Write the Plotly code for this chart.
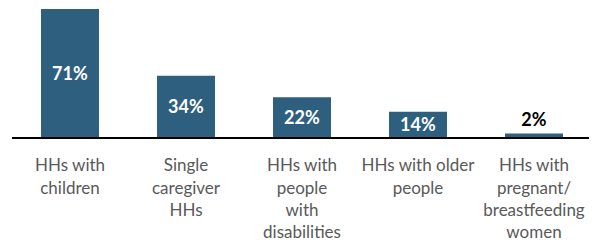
import plotly.graph_objects as go

categories = ["HHs with<br>children", "Single<br>caregiver<br>HHs", "HHs with<br>people<br>with<br>disabilities",
              "HHs with older<br>people", "HHs with<br>pregnant/<br>breastfeeding<br>women"]
values = [71, 34, 22, 14, 2]
labels = ["71%", "34%", "22%", "14%", "2%"]

positions = ["inside", "inside", "inside", "inside", "outside"]
text_colors = ["white", "white", "white", "white", "black"]

fig = go.Figure(go.Bar(
    x=categories, y=values, text=labels,
    textposition=positions, insidetextanchor="middle",
    textfont=dict(family="Lato", size=18, color=text_colors, weight="bold"),
    marker=dict(color="#2F5F7F", line=dict(width=0)),
    width=0.5, cliponaxis=False,
))
fig.update_layout(
    width=597, height=244, margin=dict(l=4, r=13, t=1, b=115, autoexpand=False),
    plot_bgcolor="white", paper_bgcolor="white", showlegend=False,
    uniformtext=dict(minsize=18, mode="show"),
)
fig.update_yaxes(range=[0, 71], visible=False)
fig.update_xaxes(showline=True, linecolor="black", linewidth=2, ticks="",
                 tickfont=dict(family="Lato", size=17, color="#595959"),
                 ticklabelstandoff=12, automargin=False)
fig.write_html("out.html")
